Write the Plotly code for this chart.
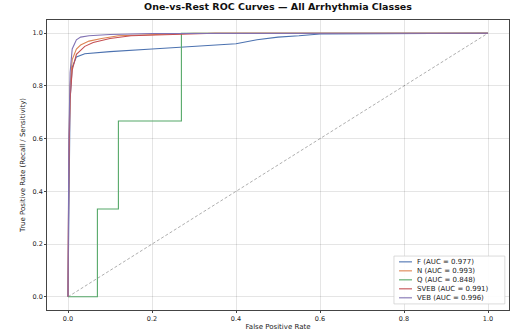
import plotly.graph_objects as go

title = "One-vs-Rest ROC Curves — All Arrhythmia Classes"
x_label = "False Positive Rate"
y_label = "True Positive Rate (Recall / Sensitivity)"

class_names = ["F", "N", "Q", "SVEB", "VEB"]
auc_values = [0.977, 0.993, 0.848, 0.991, 0.996]
colors = ["#4C72B0", "#DD8452", "#55A868", "#C44E52", "#8172B3"]

fpr_F = [0.0, 0.002, 0.005, 0.01, 0.02, 0.04, 0.1, 0.2, 0.3, 0.4, 0.45, 0.5, 0.55, 0.6, 1.0]
tpr_F = [0.0, 0.45, 0.75, 0.87, 0.91, 0.922, 0.93, 0.94, 0.95, 0.96, 0.975, 0.985, 0.99, 0.997, 1.0]

fpr_N = [0.0, 0.002, 0.005, 0.01, 0.02, 0.03, 0.05, 0.08, 0.12, 0.2, 0.3, 1.0]
tpr_N = [0.0, 0.55, 0.8, 0.9, 0.94, 0.955, 0.97, 0.98, 0.99, 0.995, 1.0, 1.0]

fpr_Q = [0.0, 0.07, 0.07, 0.12, 0.12, 0.27, 0.27, 1.0]
tpr_Q = [0.0, 0.0, 0.333, 0.333, 0.667, 0.667, 1.0, 1.0]

fpr_SVEB = [0.0, 0.002, 0.005, 0.01, 0.02, 0.04, 0.06, 0.1, 0.15, 0.25, 0.35, 1.0]
tpr_SVEB = [0.0, 0.5, 0.75, 0.86, 0.92, 0.95, 0.965, 0.98, 0.99, 0.995, 1.0, 1.0]

fpr_VEB = [0.0, 0.002, 0.005, 0.01, 0.02, 0.03, 0.05, 0.1, 0.2, 1.0]
tpr_VEB = [0.0, 0.6, 0.85, 0.94, 0.975, 0.985, 0.99, 0.995, 0.999, 1.0]

tick_vals = [0, 0.2, 0.4, 0.6, 0.8, 1.0]
tick_text = ["0.0", "0.2", "0.4", "0.6", "0.8", "1.0"]

curves = [(fpr_F, tpr_F), (fpr_N, tpr_N), (fpr_Q, tpr_Q), (fpr_SVEB, tpr_SVEB), (fpr_VEB, tpr_VEB)]

fig = go.Figure()
fig.add_trace(go.Scatter(x=[0, 1], y=[0, 1], mode="lines",
                         line=dict(color="rgba(0,0,0,0.4)", width=0.8, dash="3px,2px"),
                         showlegend=False, hoverinfo="skip"))
for name, auc, col, (fx, ty) in zip(class_names, auc_values, colors, curves):
    fig.add_trace(go.Scatter(x=fx, y=ty, mode="lines",
                             line=dict(color=col, width=1.1),
                             name=f"{name} (AUC = {auc:.3f})", showlegend=False))

axis_common = dict(
    range=[-0.05, 1.05], showgrid=True, gridcolor="rgba(0,0,0,0.1)", gridwidth=0.6,
    zeroline=False, showline=True, linecolor="#444", linewidth=0.8, mirror=True,
    ticks="outside", ticklen=2, tickcolor="#444", tickfont=dict(size=6.5, color="#222"),
    tickvals=tick_vals, ticktext=tick_text,
)
fig.update_xaxes(**axis_common, title=dict(text=x_label, font=dict(size=7, color="#222"), standoff=2))
fig.update_yaxes(**axis_common, title=dict(text=y_label, font=dict(size=7, color="#222"), standoff=6))

# Manual legend (lower right) to match compact matplotlib spacing
box_x0, box_x1, box_y0, box_y1 = 0.751, 0.991, 0.021, 0.186
fig.add_shape(type="rect", xref="paper", yref="paper", x0=box_x0, x1=box_x1, y0=box_y0, y1=box_y1,
              fillcolor="rgba(255,255,255,0.9)", line=dict(color="#cccccc", width=0.7), layer="above")
entry_top, entry_step = 0.166, 0.031
for i, (name, auc, col) in enumerate(zip(class_names, auc_values, colors)):
    yy = entry_top - i * entry_step
    fig.add_shape(type="line", xref="paper", yref="paper", x0=0.762, x1=0.790, y0=yy, y1=yy,
                  line=dict(color=col, width=1.1), layer="above")
    fig.add_annotation(xref="paper", yref="paper", x=0.797, y=yy, xanchor="left", yanchor="middle",
                       text=f"{name} (AUC = {auc:.3f})", showarrow=False,
                       font=dict(size=7, color="#222"))

fig.update_layout(
    width=511, height=336,
    margin=dict(l=47, r=2, t=20, b=26),
    paper_bgcolor="white", plot_bgcolor="white",
    font=dict(family="DejaVu Sans", size=6.5, color="#222"),
    title=dict(text=f"<b>{title}</b>", x=0.5, xref="paper", xanchor="center", y=0.99, yanchor="top",
               font=dict(size=9.5, color="#111")),
    showlegend=False,
)

fig.write_html("out.html", config={"displayModeBar": False},
               post_script="document.body.style.margin='0';")
